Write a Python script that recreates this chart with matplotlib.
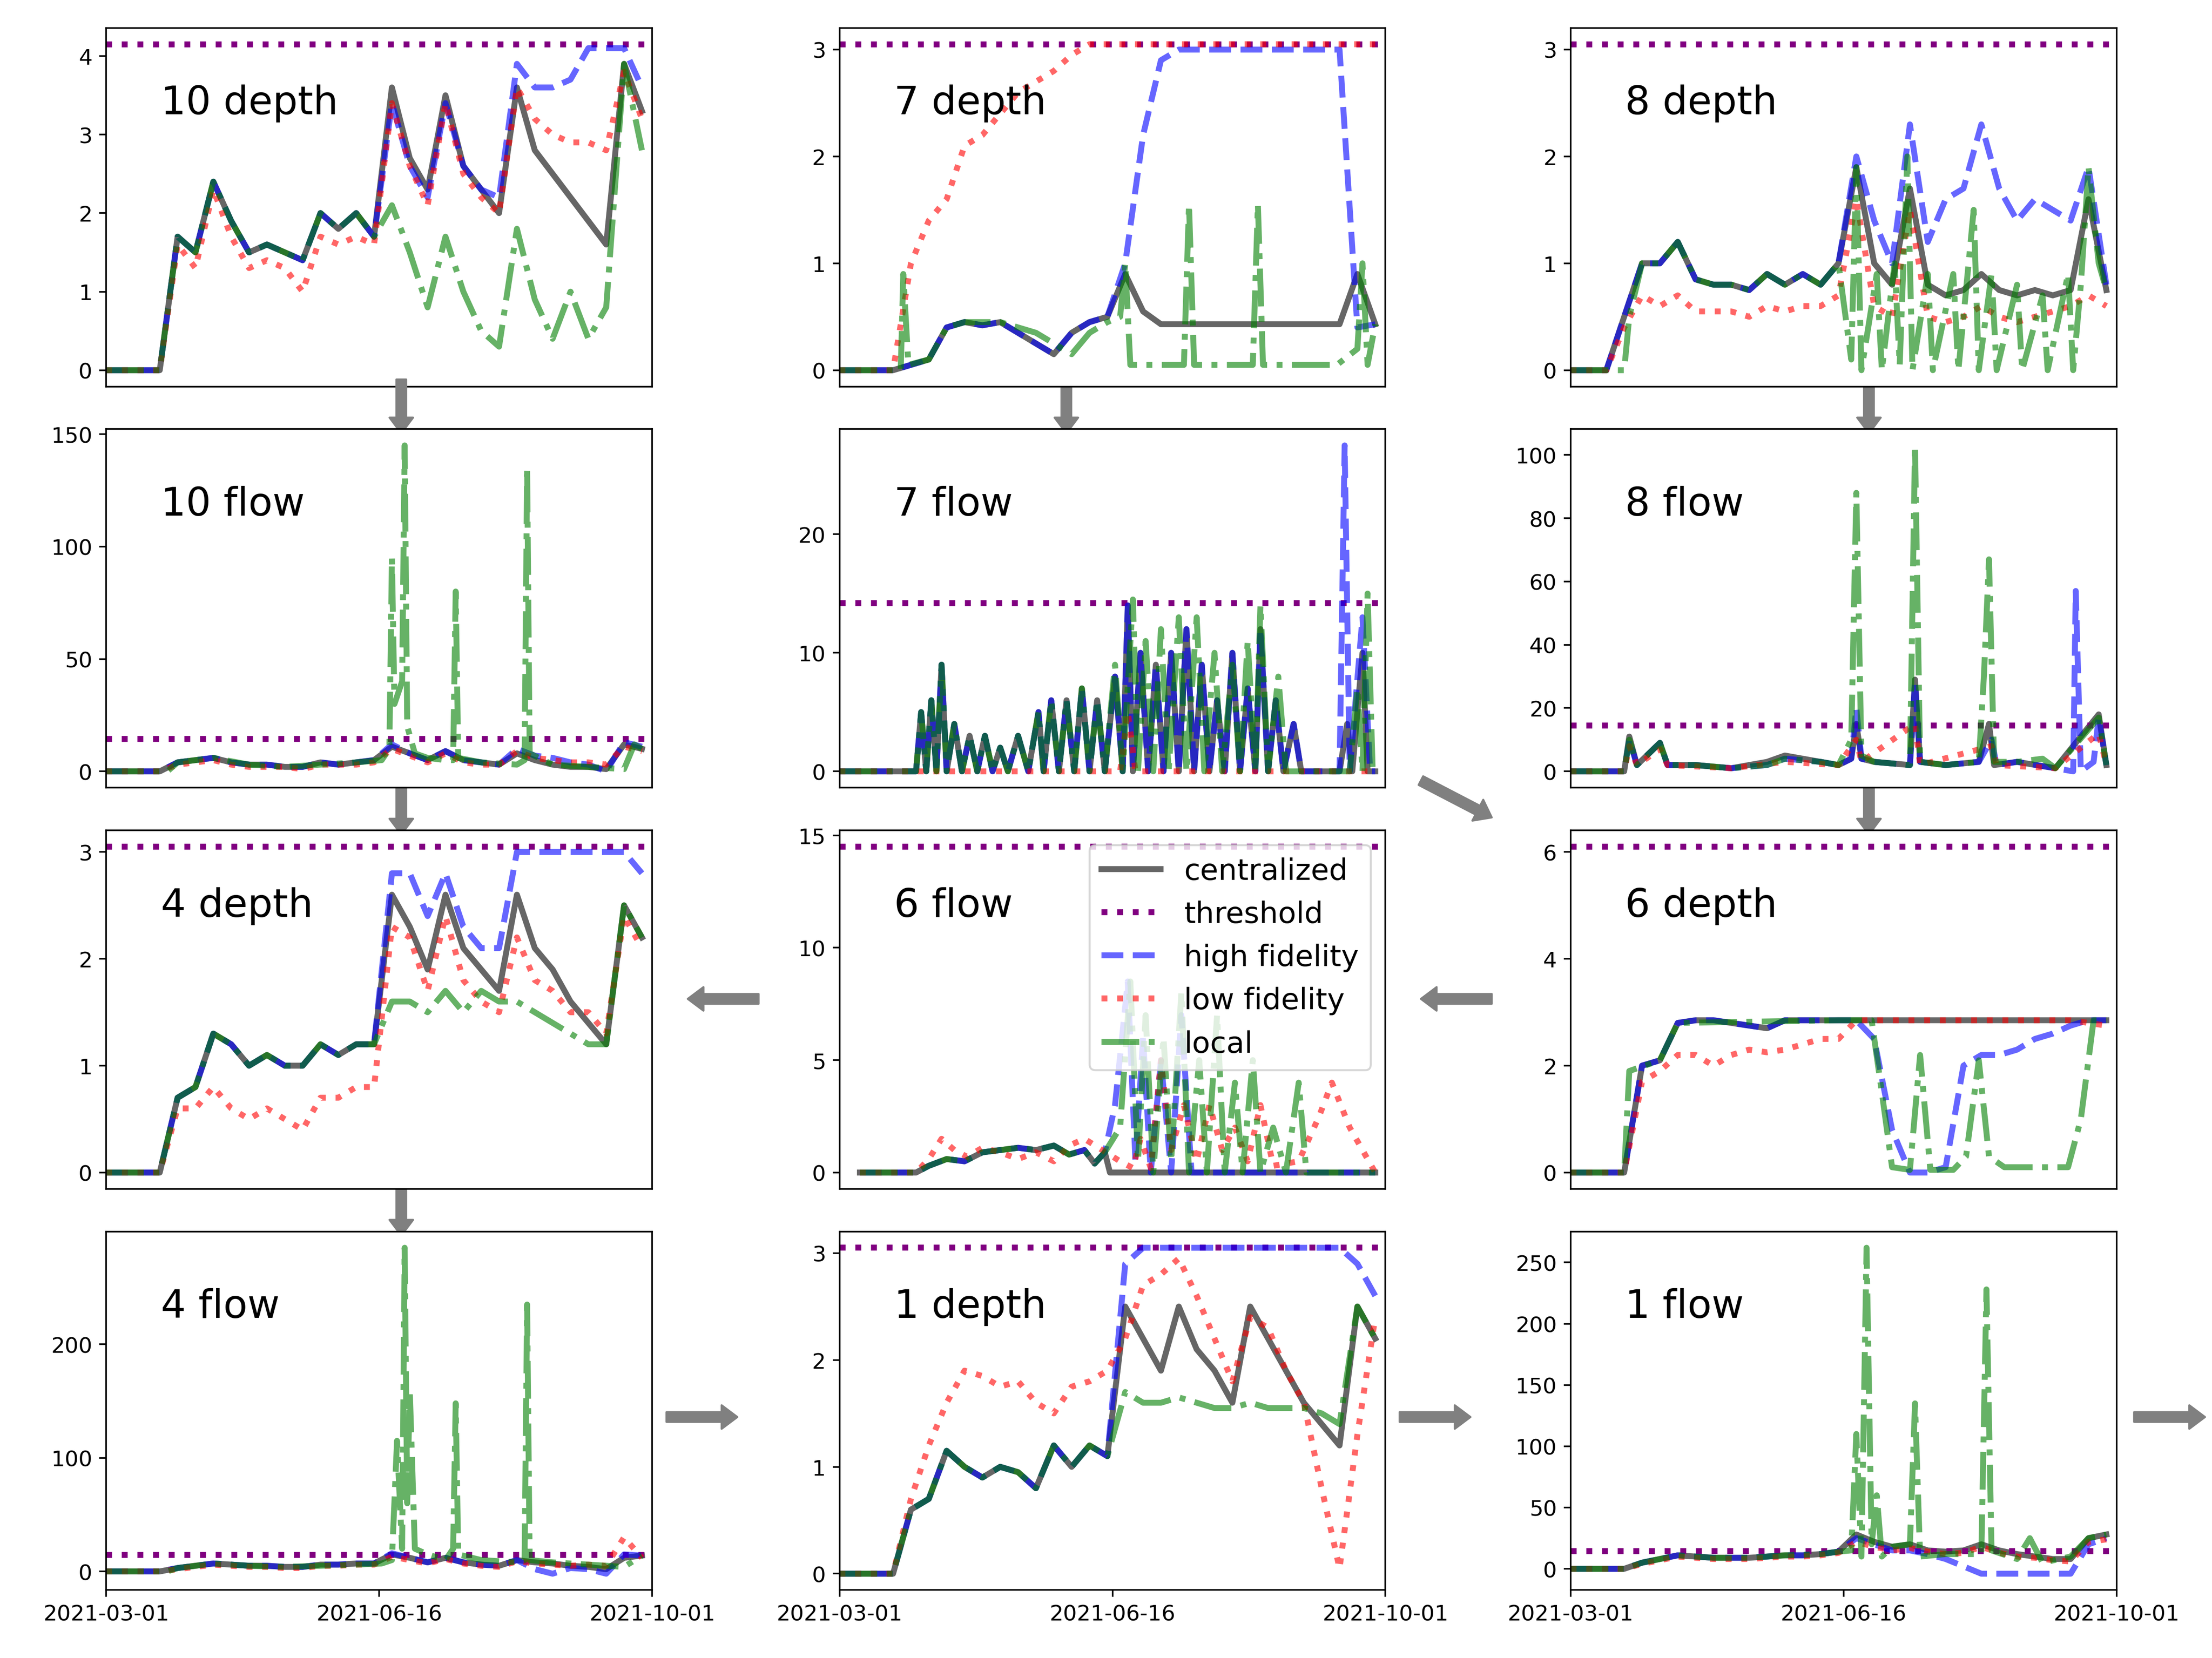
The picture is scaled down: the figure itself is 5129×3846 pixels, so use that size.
import matplotlib.pyplot as plt
from matplotlib.ticker import MultipleLocator

# weekly grid (days since 2021-03-01)
D = list(range(0, 211, 7))

# ---------- 10 depth ----------
c10d = [0,0,0,0,1.7,1.5,2.4,1.9,1.5,1.6,1.5,1.4,2.0,1.8,2.0,1.7,3.6,2.7,2.3,3.5,2.6,2.3,2.0,3.6,2.8,2.5,2.2,1.9,1.6,3.9,3.3]
h10d = [0,0,0,0,1.7,1.5,2.4,1.9,1.5,1.6,1.5,1.4,2.0,1.8,2.0,1.7,3.4,2.6,2.2,3.4,2.6,2.3,2.2,3.9,3.6,3.6,3.7,4.1,4.1,4.1,3.6]
l10d = [0,0,0,0,1.6,1.3,2.3,1.7,1.3,1.4,1.3,1.0,1.7,1.6,1.7,1.6,3.4,2.6,2.1,3.4,2.5,2.2,2.0,3.6,3.2,3.0,2.9,2.9,2.8,3.8,3.2]
o10d = [0,0,0,0,1.7,1.5,2.4,1.9,1.5,1.6,1.5,1.4,2.0,1.8,2.0,1.7,2.1,1.5,0.8,1.7,1.0,0.5,0.3,1.8,0.9,0.4,1.0,0.4,0.8,3.9,2.8]

# ---------- 10 flow ----------
c10f = [0,0,0,0,4,5,6,4,3,3,2,2,4,3,4,5,11,8,5,9,5,4,3,8,5,3,2,2,1,12,10]
h10f = [0,0,0,0,4,5,6,4,3,3,2,2,4,3,4,5,12,8,5,9,5,4,3,10,7,6,4,3,0,13,11]
l10f = [0,0,0,0,3,4,5,3,2,2,2,1,3,3,3,4,10,7,4,8,4,3,3,9,6,5,4,4,3,11,9]
o10f = [(0,0),(24,0),(28,4),(42,6),(56,3),(70,2),(84,3),(98,4),(108,5),(111,10),(112,95),(113,30),
        (116,40),(117,145),(118,20),(121,8),(126,6),(133,5),(136,5),(137,80),(138,6),(147,4),(161,3),
        (164,5),(165,135),(166,8),(175,3),(189,2),(203,1),(207,12),(210,10)]

# ---------- 4 depth ----------
c4d = [0,0,0,0,0.7,0.8,1.3,1.2,1.0,1.1,1.0,1.0,1.2,1.1,1.2,1.2,2.6,2.3,1.9,2.6,2.1,1.9,1.7,2.6,2.1,1.9,1.6,1.4,1.2,2.5,2.2]
h4d = [0,0,0,0,0.7,0.8,1.3,1.2,1.0,1.1,1.0,1.0,1.2,1.1,1.2,1.2,2.8,2.8,2.4,2.8,2.3,2.1,2.1,3.0,3.0,3.0,3.0,3.0,3.0,3.0,2.8]
l4d = [0,0,0,0,0.6,0.6,0.8,0.6,0.5,0.6,0.5,0.4,0.7,0.7,0.8,0.8,2.3,2.2,1.7,2.4,1.8,1.6,1.5,2.2,1.8,1.7,1.5,1.5,1.3,2.4,2.1]
o4d = [0,0,0,0,0.7,0.8,1.3,1.2,1.0,1.1,1.0,1.0,1.2,1.1,1.2,1.2,1.6,1.6,1.5,1.7,1.5,1.7,1.6,1.6,1.5,1.4,1.3,1.2,1.2,2.5,2.2]

# ---------- 4 flow ----------
c4f = [0,0,0,0,3,5,7,6,5,5,4,4,6,6,7,7,15,12,8,12,8,6,5,10,8,7,5,4,2,12,14]
h4f = [0,0,0,0,3,5,7,6,5,5,4,4,6,6,7,7,16,12,8,12,8,6,5,10,2,-2,3,2,-2,15,14]
l4f = [0,0,0,0,2,4,6,5,4,4,3,3,5,5,6,6,13,10,7,11,7,5,4,9,7,6,5,6,5,30,12]
o4f = [(0,0),(24,0),(28,3),(42,7),(56,5),(70,4),(84,5),(98,6),(108,7),(112,10),(114,115),(116,20),
       (117,285),(118,60),(119,160),(121,20),(126,15),(133,10),(136,20),(137,148),(138,15),(147,10),
       (161,8),(164,10),(165,235),(166,10),(175,8),(189,6),(203,4),(210,14)]

# ---------- 7 depth ----------
c7d = [0,0,0,0,0.05,0.1,0.4,0.45,0.42,0.45,0.35,0.25,0.15,0.35,0.45,0.5,0.9,0.55,0.43,0.43,0.43,0.43,0.43,0.43,0.43,0.43,0.43,0.43,0.43,0.9,0.43]
h7d = [0,0,0,0,0.05,0.1,0.4,0.45,0.42,0.45,0.35,0.25,0.15,0.35,0.45,0.5,1.0,2.2,2.9,3.0,3.0,3.0,3.0,3.0,3.0,3.0,3.0,3.0,3.0,0.4,0.43]
l7d = [0,0,0,0,1.0,1.4,1.6,2.1,2.2,2.4,2.6,2.7,2.8,2.95,3.05,3.05,3.05,3.05,3.05,3.05,3.05,3.05,3.05,3.05,3.05,3.05,3.05,3.05,3.05,3.05,3.05]
o7d = [(0,0),(24,0),(25,0.9),(27,0.05),(35,0.1),(42,0.4),(49,0.45),(63,0.45),(77,0.35),(84,0.25),
       (91,0.15),(98,0.35),(105,0.45),(110,0.5),(112,1.0),(114,0.05),(120,0.05),(135,0.05),(137,1.55),
       (139,0.05),(150,0.05),(162,0.05),(164,1.55),(166,0.05),(180,0.05),(195,0.05),(203,0.2),(205,1.0),
       (207,0.05),(210,0.43)]

# ---------- 7 flow ----------
c7f = [(0,0),(30,0),(32,5),(34,0),(36,6),(38,0),(40,9),(42,0),(45,4),(48,0),(51,3),(54,0),(57,3),(60,0),
       (63,2),(66,0),(70,3),(74,0),(78,5),(80,0),(83,6),(86,0),(89,6),(92,0),(95,7),(98,0),(101,6),(104,0),
       (108,8),(111,0),(113,14),(115,0),(118,10),(121,0),(124,9),(127,0),(130,10),(133,0),(136,12),(139,0),
       (142,9),(145,0),(148,6),(151,0),(154,10),(157,0),(160,7),(163,0),(165,12),(168,0),(171,6),(174,0),
       (178,4),(181,0),(196,0),(199,4),(201,0),(205,10),(207,0),(210,0)]
h7f = [(0,0),(30,0),(32,5),(34,0),(36,6),(38,0),(40,9),(42,0),(45,4),(48,0),(51,3),(54,0),(57,3),(60,0),
       (63,2),(66,0),(70,3),(74,0),(78,5),(80,0),(83,6),(86,0),(89,6),(92,0),(95,7),(98,0),(101,6),(104,0),
       (108,8),(111,0),(113,14),(115,0),(118,10),(121,0),(124,9),(127,0),(130,10),(133,0),(136,12),(139,0),
       (142,9),(145,0),(148,6),(151,0),(154,10),(157,0),(160,7),(163,0),(165,12),(168,0),(171,6),(174,0),
       (178,4),(181,0),(196,0),(198,27.5),(200,0),(205,13),(208,0),(210,0)]
l7f = [(0,0),(110,0),(113,5),(116,0),(210,0)]
o7f = [(0,0),(30,0),(32,5),(34,0),(36,6),(38,0),(40,9),(42,0),(45,4),(48,0),(51,3),(54,0),(57,3),(60,0),
       (63,2),(66,0),(70,3),(74,0),(78,5),(80,0),(83,6),(86,0),(89,6),(92,0),(95,7),(98,0),(101,6),(104,0),
       (108,9),(111,0),(115,14.5),(117,0),(120,11),(123,0),(126,12),(129,0),(133,13),(136,0),(140,13),
       (143,0),(147,10),(150,0),(154,9),(157,0),(160,11),(163,0),(165,14),(168,0),(172,8),(175,0),
       (200,0),(203,7),(205,0),(207,15),(209,0),(210,0)]

# ---------- 6 flow ----------
c6f = [(8,0),(30,0),(35,0.3),(42,0.6),(49,0.5),(56,0.9),(63,1.0),(70,1.1),(77,1.0),(84,1.2),(90,0.8),
       (96,1.0),(100,0.4),(104,0.9),(106,0),(210,0)]
h6f = [(8,0),(30,0),(35,0.3),(42,0.6),(49,0.5),(56,0.9),(63,1.0),(70,1.1),(77,1.0),(84,1.2),(90,0.8),
       (96,1.0),(100,0.4),(104,0.9),(108,3),(113,8.5),(116,0.5),(119,6),(122,0),(126,5),(130,0),(134,7),
       (138,0),(150,0),(210,0)]
l6f = [(8,0),(30,0),(35,0.6),(40,1.5),(45,1.0),(50,0.7),(56,1.1),(63,0.9),(70,0.6),(77,0.9),(84,0.5),
       (90,1.2),(96,1.5),(103,1.0),(110,0.5),(115,0.2),(118,1.5),(122,0.2),(126,5),(130,1),(135,3),
       (140,0.5),(145,3),(150,1),(155,2),(160,0.5),(165,3),(170,0.3),(180,0.5),(188,2.5),(193,4),(200,2),
       (205,1),(210,0)]
o6f = [(8,0),(30,0),(35,0.3),(42,0.6),(49,0.5),(56,0.9),(63,1.0),(70,1.1),(77,1.0),(84,1.2),(90,0.8),
       (96,1.0),(100,0.4),(104,0.9),(110,2),(114,8.5),(117,0.5),(120,7),(123,0),(127,6),(130,0.5),(134,8),
       (137,0),(141,5),(144,0),(148,7),(151,0),(155,4),(158,0),(162,5),(165,0),(170,2),(175,0),(180,4),
       (183,0),(210,0)]

# ---------- 1 depth ----------
c1d = [0,0,0,0,0.6,0.7,1.15,1.0,0.9,1.0,0.95,0.8,1.2,1.0,1.2,1.1,2.5,2.2,1.9,2.5,2.1,1.9,1.6,2.5,2.2,1.9,1.6,1.4,1.2,2.5,2.2]
h1d = [0,0,0,0,0.6,0.7,1.15,1.0,0.9,1.0,0.95,0.8,1.2,1.0,1.2,1.1,2.9,3.05,3.05,3.05,3.05,3.05,3.05,3.05,3.05,3.05,3.05,3.05,3.05,2.9,2.6]
l1d = [0,0,0,0,0.7,1.2,1.6,1.9,1.85,1.75,1.8,1.6,1.5,1.75,1.8,1.9,2.2,2.7,2.8,2.95,2.6,2.2,1.8,2.4,2.3,1.9,1.6,0.8,0.05,1.3,2.4]
o1d = [0,0,0,0,0.6,0.7,1.15,1.0,0.9,1.0,0.95,0.8,1.2,1.0,1.2,1.1,1.7,1.6,1.6,1.65,1.6,1.55,1.55,1.6,1.55,1.55,1.55,1.5,1.4,2.5,2.2]

# ---------- 8 depth ----------
c8d = [0,0,0,0.5,1.0,1.0,1.2,0.85,0.8,0.8,0.75,0.9,0.8,0.9,0.8,1.0,1.9,1.0,0.8,1.7,0.8,0.7,0.75,0.9,0.75,0.7,0.75,0.7,0.75,1.6,0.75]
h8d = [0,0,0,0.5,1.0,1.0,1.2,0.85,0.8,0.8,0.75,0.9,0.8,0.9,0.8,1.0,2.0,1.4,1.0,2.3,1.2,1.6,1.7,2.3,1.7,1.4,1.6,1.5,1.4,1.9,0.8]
l8d = [0,0,0,0.4,0.7,0.6,0.7,0.55,0.55,0.55,0.5,0.6,0.55,0.6,0.6,0.7,1.6,0.6,0.5,1.5,0.5,0.45,0.5,0.6,0.5,0.45,0.5,0.55,0.6,0.7,0.6]
o8d = [(0,0),(21,0),(23,0.5),(28,1.0),(35,1.0),(42,1.2),(49,0.85),(56,0.8),(63,0.8),(70,0.75),(77,0.9),
       (84,0.8),(91,0.9),(98,0.8),(105,1.0),(110,0.1),(112,1.9),(114,0),(120,0.9),(122,0),(127,1.0),
       (129,0.05),(132,2.0),(134,0),(140,0.9),(142,0),(150,0.9),(152,0),(158,1.5),(160,0),(165,0.9),
       (167,0),(175,0.8),(177,0),(185,0.7),(187,0),(195,0.9),(197,0),(200,0.8),(203,1.9),(207,1.0),(210,0.75)]

# ---------- 8 flow ----------
c8f = [(0,0),(21,0),(23,11),(26,2),(35,9),(38,2),(49,2),(63,1),(77,3),(84,5),(98,3),(105,2),(110,4),
       (112,15),(114,4),(119,3),(133,2),(135,29),(137,3),(147,2),(160,3),(164,15),(166,2),(175,3),(190,1),
       (207,18),(210,2)]
h8f = [(0,0),(21,0),(23,10),(26,2),(35,9),(38,2),(49,2),(63,1),(77,2),(84,4),(98,3),(105,2),(110,4),
       (112,20),(114,4),(119,3),(133,2),(135,28),(137,3),(147,2),(160,3),(165,10),(167,2),(175,3),(190,1),
       (197,0),(198,57),(200,0),(205,3),(207,17),(210,2)]
l8f = [(0,0),(21,0),(23,8),(26,2),(35,7),(38,2),(63,1),(84,3),(105,2),(112,10),(114,3),(135,15),(137,2),
       (165,8),(167,2),(190,1),(207,12),(210,2)]
o8f = [(0,0),(21,0),(23,10),(26,2),(35,9),(38,2),(49,2),(63,1),(77,2),(84,4),(98,3),(105,2),(110,10),
       (112,88),(114,5),(119,3),(133,2),(135,103),(137,3),(147,2),(160,3),(162,30),(164,67),(166,3),
       (175,3),(185,4),(190,1),(207,17),(210,2)]

# ---------- 6 depth ----------
c6d = [0,0,0,0,2.0,2.1,2.8,2.85,2.85,2.8,2.75,2.7,2.85,2.85,2.85,2.85,2.85,2.85,2.85,2.85,2.85,2.85,2.85,2.85,2.85,2.85,2.85,2.85,2.85,2.85,2.85]
h6d = [0,0,0,0,2.0,2.1,2.8,2.85,2.85,2.8,2.75,2.7,2.85,2.85,2.85,2.85,2.85,2.5,0.8,0.0,0.0,0.1,2.0,2.2,2.2,2.3,2.5,2.6,2.75,2.85,2.85]
l6d = [0,0,0,0,1.7,1.9,2.2,2.2,2.0,2.2,2.3,2.25,2.3,2.4,2.5,2.5,2.85,2.85,2.85,2.85,2.85,2.85,2.85,2.85,2.85,2.85,2.85,2.85,2.85,2.8,2.75]
o6d = [(0,0),(21,0),(23,1.9),(35,2.1),(42,2.8),(105,2.85),(118,2.85),(122,1.5),(126,0.1),(133,0.05),
       (137,2.2),(141,0.05),(150,0.05),(155,0.3),(160,2.1),(164,0.3),(170,0.1),(195,0.1),(200,1.0),
       (205,2.85),(210,2.85)]

# ---------- 1 flow ----------
c1f = [0,0,0,0,5,8,11,10,9,9,9,10,11,11,12,14,28,22,18,20,15,14,15,20,15,12,10,8,8,25,28]
h1f = [0,0,0,0,5,8,11,10,9,9,9,10,11,11,12,14,25,20,15,15,12,8,2,-4,-4,-4,-4,-4,-4,20,25]
l1f = [0,0,0,0,4,7,10,9,8,8,8,9,10,10,11,13,22,18,15,17,14,12,13,18,13,10,9,7,6,22,24]
o1f = [(0,0),(21,0),(28,5),(42,11),(56,9),(70,9),(84,11),(98,12),(105,14),(110,15),(112,110),(114,10),
       (116,262),(118,20),(120,60),(122,10),(126,18),(133,20),(135,135),(137,10),(147,12),(161,12),
       (163,228),(165,15),(175,8),(180,25),(185,5),(196,10),(203,25),(210,28)]

# panel: (row, col, label, threshold, ytick step, central, high, low, local)
panels = [
    (0, 0, '10 depth', 4.15, 1, c10d, h10d, l10d, o10d),
    (1, 0, '10 flow', 14.5, 50, c10f, h10f, l10f, o10f),
    (2, 0, '4 depth', 3.05, 1, c4d, h4d, l4d, o4d),
    (3, 0, '4 flow', 14.5, 100, c4f, h4f, l4f, o4f),
    (0, 1, '7 depth', 3.05, 1, c7d, h7d, l7d, o7d),
    (1, 1, '7 flow', 14.2, 10, c7f, h7f, l7f, o7f),
    (2, 1, '6 flow', 14.5, 5, c6f, h6f, l6f, o6f),
    (3, 1, '1 depth', 3.05, 1, c1d, h1d, l1d, o1d),
    (0, 2, '8 depth', 3.05, 1, c8d, h8d, l8d, o8d),
    (1, 2, '8 flow', 14.5, 20, c8f, h8f, l8f, o8f),
    (2, 2, '6 depth', 6.1, 2, c6d, h6d, l6d, o6d),
    (3, 2, '1 flow', 14.5, 50, c1f, h1f, l1f, o1f),
]


def xy(s):
    if isinstance(s[0], tuple):
        return [p[0] for p in s], [p[1] for p in s]
    return D[:len(s)], s


fig = plt.figure(figsize=(15.6, 11.7), dpi=328.8)
lefts = [0.048, 0.3795, 0.710]
bottoms = [0.7667, 0.5248, 0.2829, 0.041]
W, H = 0.2468, 0.2162

axes = []
for r, c, name, thr, step, cen, hi, lo, loc in panels:
    ax = fig.add_axes([lefts[c], bottoms[r], W, H])
    axes.append(ax)
    ax.plot(*xy(cen), color='k', alpha=0.6, lw=3, label='centralized')
    ax.axhline(thr, color='purple', ls=':', lw=3, label='threshold')
    ax.plot(*xy(hi), color='b', ls='--', alpha=0.6, lw=3, label='high fidelity')
    ax.plot(*xy(lo), color='r', ls=':', alpha=0.6, lw=3, label='low fidelity')
    ax.plot(*xy(loc), color='g', ls='-.', alpha=0.6, lw=3, label='local')
    ax.text(0.1, 0.79, name, transform=ax.transAxes, fontsize=20, va='center')
    ax.set_xlim(0, 214)
    ax.yaxis.set_major_locator(MultipleLocator(step))
    ax.tick_params(axis='y', labelsize=11)
    if r == 3:
        ax.set_xticks([0, 107, 214])
        ax.set_xticklabels(['2021-03-01', '2021-06-16', '2021-10-01'], fontsize=11)
    else:
        ax.set_xticks([])
    if name == '6 flow':
        ax.legend(loc='upper right', fontsize=15)

# gray arrows between panels (figure pixel coords of a 1560x1170 layout)
arrows = [
    ((283, 268), (283, 306)), ((283, 551), (283, 589)), ((283, 834), (283, 872)),
    ((752, 268), (752, 306)), ((1318, 268), (1318, 306)), ((1318, 551), (1318, 589)),
    ((535, 705), (485, 705)), ((1052, 705), (1002, 705)),
    ((470, 1000), (520, 1000)), ((987, 1000), (1037, 1000)), ((1505, 1000), (1555, 1000)),
    ((1002, 551), (1052, 577)),
]
for (x0, y0), (x1, y1) in arrows:
    axes[0].annotate('', xy=(x1 / 1560, 1 - y1 / 1170), xytext=(x0 / 1560, 1 - y0 / 1170),
                     xycoords='figure fraction', textcoords='figure fraction',
                     annotation_clip=False,
                     arrowprops=dict(arrowstyle='simple,head_length=0.4,head_width=0.6,tail_width=0.25',
                                     color='gray', mutation_scale=20, shrinkA=0, shrinkB=0))

fig.savefig('out.png')
